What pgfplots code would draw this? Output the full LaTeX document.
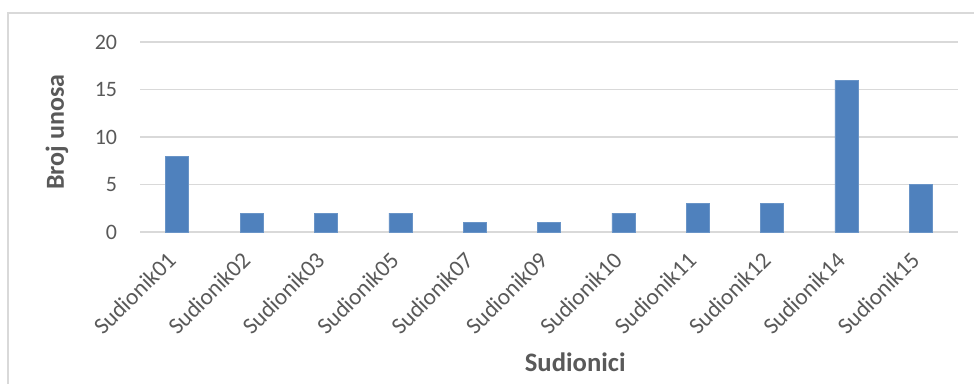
\documentclass[border=0pt]{standalone}
\usepackage{pgfplots}
\pgfplotsset{compat=1.18}
\usepackage{fontspec}
\setmainfont{Carlito}
\definecolor{barblue}{HTML}{4F81BD}
\definecolor{txtgray}{HTML}{595959}
\definecolor{gridgray}{HTML}{D9D9D9}
\begin{document}
\begin{tikzpicture}
\path[use as bounding box] (0pt,0pt) rectangle (730.5pt,287.25pt);
\draw[gridgray, line width=0.9pt] (6pt,-5pt) -- (6pt,277.5pt) -- (740pt,277.5pt);
\begin{axis}[
  at={(105pt,113.25pt)}, anchor=south west,
  scale only axis, width=613.5pt, height=142.5pt,
  ybar, bar width=17.25pt,
  xmin=-0.5, xmax=10.5, ymin=0, ymax=20,
  ytick={0,5,10,15,20},
  xtick=data,
  xticklabels={Sudionik01,Sudionik02,Sudionik03,Sudionik05,Sudionik07,Sudionik09,Sudionik10,Sudionik11,Sudionik12,Sudionik14,Sudionik15},
  axis line style={draw=none},
  major tick length=0pt,
  ymajorgrids, grid style={gridgray, line width=0.9pt},
  /pgf/number format/assume math mode=true,
  tick label style={text=txtgray},
  yticklabel style={font=\fontsize{16.5}{19}\selectfont, anchor=east, inner sep=0pt, xshift=-17pt},
  xticklabel style={font=\fontsize{17.5}{20}\selectfont, xshift=-8.5pt, yshift=-13.5pt, rotate=45, anchor=north east, inner sep=0pt},
  xlabel={Sudionici}, ylabel={Broj unosa},
  every axis x label/.style={at={(axis description cs:0.532,-0.684)}, anchor=center, font=\bfseries\fontsize{20}{22}\selectfont, text=txtgray},
  every axis y label/.style={at={(axis description cs:-0.1015,0.526)}, rotate=90, anchor=center, font=\bfseries\fontsize{19.5}{22}\selectfont, text=txtgray},
  clip=false,
]
\addplot[fill=barblue, draw=barblue!85!white] coordinates {
(0,8) (1,2) (2,2) (3,2) (4,1) (5,1) (6,2) (7,3) (8,3) (9,16) (10,5)};
\end{axis}
\end{tikzpicture}
\end{document}
